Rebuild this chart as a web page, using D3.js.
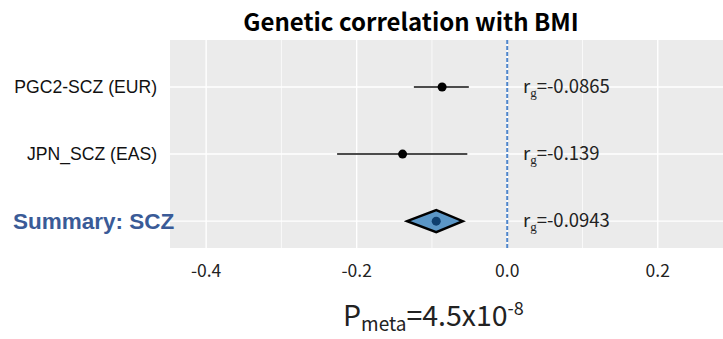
<!DOCTYPE html>
<html>
<head>
<meta charset="utf-8">
<script src="https://cdn.jsdelivr.net/npm/d3@7"></script>
<style>
  body { margin: 0; background: #fff; }
  svg { display: block; }
</style>
</head>
<body>
<div id="chart"></div>
<script>
// data
const studies = ["PGC2-SCZ (EUR)", "JPN_SCZ (EAS)"];
const rg = [-0.0865, -0.139];
const rgLower = [-0.124, -0.226];
const rgUpper = [-0.051, -0.053];
const summaryLabel = "Summary: SCZ";
const summaryRg = -0.0943;
const summaryLower = -0.133;
const summaryUpper = -0.059;
const majorTicks = [-0.4, -0.2, 0.0, 0.2];
const minorTicks = [-0.3, -0.1, 0.1, 0.3];
const rowPos = [3, 2];
const summaryPos = 1;

const W = 723, H = 339;
const panel = {left: 170, right: 724, top: 40, bottom: 248};
const jpFont = "'Noto Sans CJK JP', 'Noto Sans', sans-serif";

const svg = d3.select("#chart").append("svg")
    .attr("width", W).attr("height", H);

svg.append("defs").append("clipPath").attr("id", "clip")
    .append("rect")
    .attr("x", panel.left).attr("y", panel.top)
    .attr("width", panel.right - panel.left).attr("height", panel.bottom - panel.top);

const x = d3.scaleLinear().domain([-0.448, 0.288]).range([panel.left, panel.right]);
const y = d3.scaleLinear().domain([0.6, 3.7]).range([panel.bottom, panel.top]);

// panel background
svg.append("rect")
    .attr("x", panel.left).attr("y", panel.top)
    .attr("width", panel.right - panel.left).attr("height", panel.bottom - panel.top)
    .attr("fill", "#ebebeb");

const g = svg.append("g").attr("clip-path", "url(#clip)");

// grid lines
g.selectAll(".minor").data(minorTicks).enter().append("line")
    .attr("x1", d => x(d)).attr("x2", d => x(d))
    .attr("y1", panel.top).attr("y2", panel.bottom)
    .attr("stroke", "#fff").attr("stroke-width", 0.7);
g.selectAll(".major").data(majorTicks).enter().append("line")
    .attr("x1", d => x(d)).attr("x2", d => x(d))
    .attr("y1", panel.top).attr("y2", panel.bottom)
    .attr("stroke", "#fff").attr("stroke-width", 1.4);
g.selectAll(".hgrid").data(rowPos.concat([summaryPos])).enter().append("line")
    .attr("x1", panel.left).attr("x2", panel.right)
    .attr("y1", d => y(d)).attr("y2", d => y(d))
    .attr("stroke", "#fff").attr("stroke-width", 1.4);

// zero line
g.append("line")
    .attr("x1", x(0)).attr("x2", x(0))
    .attr("y1", panel.top).attr("y2", panel.bottom)
    .attr("stroke", "#4f86cc").attr("stroke-width", 2)
    .attr("stroke-dasharray", "4,2");

// study CIs + points
g.selectAll(".ci").data(rg).enter().append("line")
    .attr("x1", (d, i) => x(rgLower[i])).attr("x2", (d, i) => x(rgUpper[i]))
    .attr("y1", (d, i) => y(rowPos[i])).attr("y2", (d, i) => y(rowPos[i]))
    .attr("stroke", "#111").attr("stroke-width", 1.5);
g.selectAll(".pt").data(rg).enter().append("circle")
    .attr("cx", d => x(d)).attr("cy", (d, i) => y(rowPos[i]))
    .attr("r", 4.5).attr("fill", "#000");

// summary diamond
const dh = 11;
const ys = y(summaryPos);
g.append("path")
    .attr("d", `M${x(summaryLower)},${ys} L${x(summaryRg)},${ys - dh} L${x(summaryUpper)},${ys} L${x(summaryRg)},${ys + dh} Z`)
    .attr("fill", "#5b96c6").attr("stroke", "#000").attr("stroke-width", 2.4)
    .attr("stroke-linejoin", "miter");
g.append("circle")
    .attr("cx", x(summaryRg)).attr("cy", ys).attr("r", 4.5)
    .attr("fill", "#0f3f6e");

// rg labels
const labelX = 523;
const allRg = rg.concat([summaryRg]);
const allPos = rowPos.concat([summaryPos]);
allRg.forEach((v, i) => {
    const t = svg.append("text")
        .attr("x", labelX).attr("y", y(allPos[i]) + 6)
        .attr("font-family", jpFont)
        .attr("font-size", 18.5).attr("fill", "#222");
    t.append("tspan").text("r");
    t.append("tspan").attr("font-family", "'Liberation Serif', serif")
        .attr("font-size", 13).attr("dy", 4).text("g");
    t.append("tspan").attr("dy", -4).text("=" + v);
});

// y labels
studies.forEach((s, i) => {
    svg.append("text")
        .attr("x", 157).attr("y", y(rowPos[i]) + 6)
        .attr("text-anchor", "end")
        .attr("font-family", "'Liberation Sans', Arial, sans-serif")
        .attr("font-size", 17.6).attr("fill", "#111")
        .text(s);
});
svg.append("text")
    .attr("x", 13).attr("y", ys + 8)
    .attr("font-family", "'Liberation Sans', Arial, sans-serif")
    .attr("font-weight", "bold")
    .attr("font-size", 22.5).attr("fill", "#3a5b97")
    .text(summaryLabel);

// x axis tick labels
svg.selectAll(".xt").data(majorTicks).enter().append("text")
    .attr("x", d => x(d)).attr("y", 277)
    .attr("text-anchor", "middle")
    .attr("font-family", jpFont)
    .attr("font-size", 17.5).attr("fill", "#222")
    .text(d => d3.format(".1f")(d).replace("−", "-"));

// title
svg.append("text")
    .attr("x", 411).attr("y", 31)
    .attr("text-anchor", "middle")
    .attr("font-family", jpFont)
    .attr("font-weight", "bold")
    .attr("font-size", 24).attr("fill", "#000")
    .text("Genetic correlation with BMI");

// P meta
const p = svg.append("text")
    .attr("x", 343).attr("y", 326)
    .attr("font-family", jpFont)
    .attr("font-size", 28.5).attr("fill", "#222");
p.append("tspan").text("P");
p.append("tspan").attr("font-size", 19).attr("dy", 5).text("meta");
p.append("tspan").attr("dy", -5).text("=4.5x10");
p.append("tspan").attr("font-size", 18).attr("dy", -11).text("-8");
</script>
</body>
</html>
